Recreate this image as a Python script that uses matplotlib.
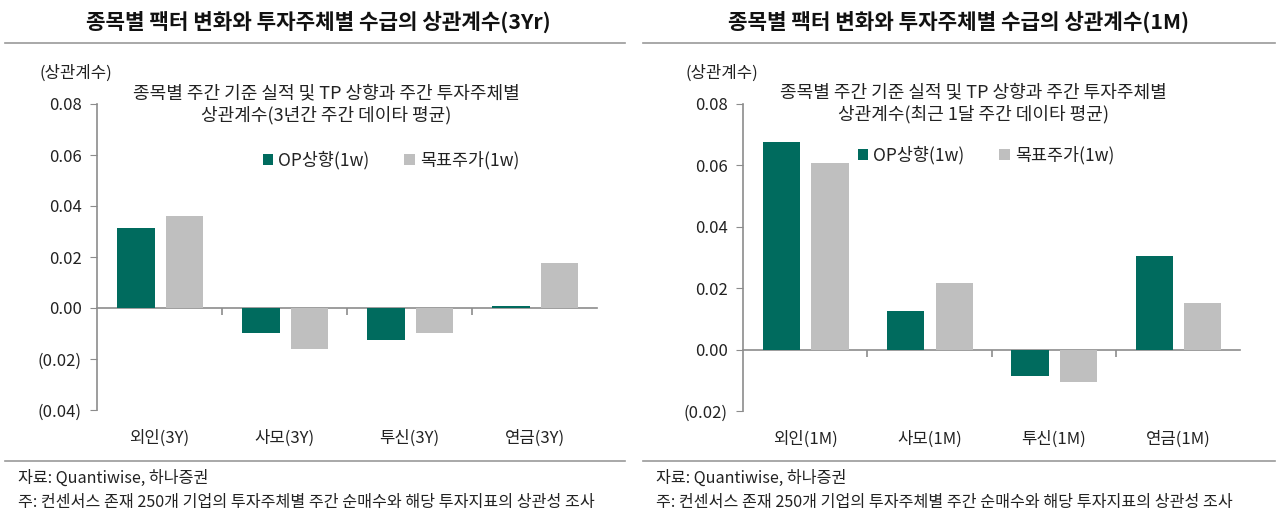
import matplotlib
matplotlib.use("Agg")
import matplotlib.pyplot as plt
import matplotlib.ticker as mticker
from matplotlib.lines import Line2D
import numpy as np

plt.rcParams['font.family'] = ['Noto Sans CJK KR', 'DejaVu Sans']

# data
cats_3y = ['외인(3Y)', '사모(3Y)', '투신(3Y)', '연금(3Y)']
op_3y = [0.0313, -0.0097, -0.0125, 0.0009]
tp_3y = [0.0362, -0.0162, -0.0097, 0.0175]

cats_1m = ['외인(1M)', '사모(1M)', '투신(1M)', '연금(1M)']
op_1m = [0.0675, 0.0127, -0.0087, 0.0306]
tp_1m = [0.0609, 0.0217, -0.0105, 0.0151]

series_names = ['OP상향(1w)', '목표주가(1w)']
titles = ['종목별 팩터 변화와 투자주체별 수급의 상관계수(3Yr)',
          '종목별 팩터 변화와 투자주체별 수급의 상관계수(1M)']
notes = ['종목별 주간 기준 실적 및 TP 상향과 주간 투자주체별\n상관계수(3년간 주간 데이타 평균)',
         '종목별 주간 기준 실적 및 TP 상향과 주간 투자주체별\n상관계수(최근 1달 주간 데이타 평균)']
source = '자료: Quantiwise, 하나증권'
footnote = '주: 컨센서스 존재 250개 기업의 투자주체별 주간 순매수와 해당 투자지표의 상관성 조사'

GREEN = '#006B5E'
GRAY = '#BFBFBF'
AXIS = '#8C8C8C'
TXT = '#222222'


def fmt(v, pos):
    if abs(v) < 1e-9:
        return '0.00'
    if v < 0:
        return f'({abs(v):.2f})'
    return f'{v:.2f}'


def draw(ax, cats, op, tp, ylim, yticks, note, note_xy, leg_xy):
    x = np.arange(len(cats))
    w = 0.3
    ax.bar(x - 0.19, op, w, color=GREEN, label=series_names[0], zorder=2)
    ax.bar(x + 0.20, tp, w, color=GRAY, label=series_names[1], zorder=2)
    ax.set_xlim(-0.5, len(cats) - 0.5)
    ax.set_ylim(*ylim)
    ax.set_yticks(yticks)
    ax.yaxis.set_major_formatter(mticker.FuncFormatter(fmt))
    for s in ['top', 'right', 'bottom']:
        ax.spines[s].set_visible(False)
    ax.spines['left'].set_color(AXIS)
    ax.spines['left'].set_linewidth(1.2)
    ax.tick_params(axis='y', direction='out', length=5, color=AXIS,
                   labelsize=12, labelcolor=TXT, pad=6)
    ax.set_xticks(x)
    ax.set_xticklabels(cats)
    ax.tick_params(axis='x', length=0, labelsize=12, labelcolor=TXT, pad=14)

    # zero line with category separators
    sec = ax.secondary_xaxis(0, transform=ax.transData)
    sec.set_xticks(x[:-1] + 0.5)
    sec.tick_params(axis='x', direction='out', length=5, color=AXIS,
                    labelbottom=False, width=1.2)
    sec.spines['bottom'].set_color(AXIS)
    sec.spines['bottom'].set_linewidth(1.2)

    ax.text(note_xy[0], note_xy[1], note, transform=ax.transAxes,
            ha='center', va='center', fontsize=13, color=TXT,
            linespacing=1.25)
    ax.legend(loc='center', bbox_to_anchor=leg_xy, ncol=2, frameon=False,
              fontsize=12.5, handlelength=0.6, handleheight=0.6,
              handletextpad=0.3, columnspacing=2.0, labelcolor=TXT)


fig = plt.figure(figsize=(12.8, 5.2), dpi=100)

ax1 = fig.add_axes([97 / 1280, 1 - 410 / 520, 500 / 1280, 306 / 520])
draw(ax1, cats_3y, op_3y, tp_3y, (-0.04, 0.08),
     [-0.04, -0.02, 0.0, 0.02, 0.04, 0.06, 0.08], notes[0],
     ((326 - 97) / 500, (410 - 104) / 306), ((391 - 97) / 500, (410 - 160) / 306))

ax2 = fig.add_axes([743 / 1280, 1 - 411 / 520, 497 / 1280, 307 / 520])
draw(ax2, cats_1m, op_1m, tp_1m, (-0.02, 0.08),
     [-0.02, 0.0, 0.02, 0.04, 0.06, 0.08], notes[1],
     ((973 - 743) / 497, (411 - 103) / 307), ((986 - 743) / 497, (411 - 155) / 307))

# titles, rules, axis unit labels, footers
for cx, t in zip([318, 958], titles):
    fig.text(cx / 1280, 1 - 22 / 520, t, ha='center', va='center',
             fontsize=15.3, fontweight='bold', color='#111111')
for x0, x1 in [(5, 625), (643, 1275)]:
    for yy in [43, 461]:
        fig.add_artist(Line2D([x0 / 1280, x1 / 1280], [1 - yy / 520] * 2,
                              color='#999999', lw=1.2))
for ux in [76, 722]:
    fig.text(ux / 1280, 1 - 73 / 520, '(상관계수)', ha='center', va='center',
             fontsize=12, color=TXT)
for fx in [18, 656]:
    fig.text(fx / 1280, 1 - 478 / 520, source, ha='left', va='center',
             fontsize=11.6, color=TXT)
    fig.text(fx / 1280, 1 - 502 / 520, footnote, ha='left', va='center',
             fontsize=11.6, color=TXT)

fig.savefig('out.png', dpi=100, facecolor='white')
